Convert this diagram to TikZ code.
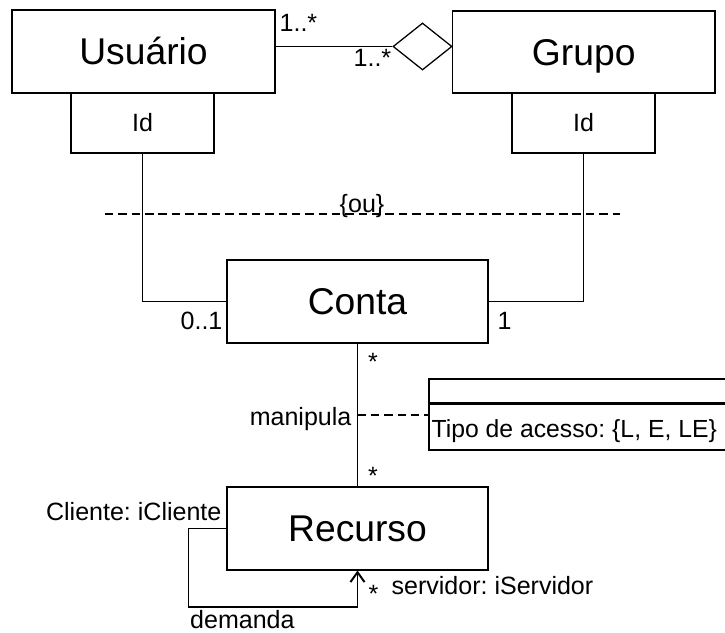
\documentclass[tikz,border=0pt]{standalone}
\usepackage{fontspec}
\setmainfont{Liberation Sans}
\usetikzlibrary{shapes.geometric, arrows.meta}

\newcommand{\grande}{\fontsize{26.5}{30}\selectfont}
\newcommand{\pequeno}{\fontsize{17.8}{21}\selectfont}
\frenchspacing

\begin{document}
\begin{tikzpicture}[line width=0.9pt,
        classe/.style={draw,font=\grande,text height=19pt,text depth=0pt,minimum width=6.55cm,minimum height=2.07cm},
        chave/.style={draw,font=\pequeno,text height=12.7pt,text depth=0pt,minimum width=3.575cm,minimum height=1.5cm},
        rotulo/.style={font=\pequeno,inner sep=0pt},
        tracejado/.style={dashed,dash pattern=on 6pt off 3.5pt,line width=1.1pt}]

        \useasboundingbox (0,0) rectangle (18.125,15.825);

        % classes
        \node [classe,minimum width=6.575cm] at (3.5875,14.5375) (usuario) {Usuário};
        \node [chave] at (3.5625,12.75) (idUsuario) {Id};
        \node [classe,minimum width=6.5625cm,minimum height=2.05cm] at (14.594,14.525) (grupo) {Grupo};
        \node [chave] at (14.5875,12.75) (idGrupo) {Id};
        \node [draw,diamond,inner sep=0pt,minimum width=1.475cm,minimum height=1.175cm] at (10.5625,14.6625) (agreg) {};
        \node [classe,minimum width=6.525cm] at (8.9375,8.2875) (conta) {Conta};
        \node [classe,minimum width=6.525cm] at (8.9375,2.6125) (recurso) {Recurso};

        % classe associativa
        \node [draw,minimum width=8.275cm,minimum height=0.6cm] at (14.8625,6.05) (attrTopo) {};
        \node [draw,minimum width=8.275cm,minimum height=1.175cm] at (14.8625,5.1625) (attrBase) {};
        \draw [line width=1.3pt] (attrTopo.south west) -- (attrTopo.south east);
        \node [rotulo,font=\fontsize{17.6}{21}\selectfont,anchor=base west] at (10.775,4.875) (tipoAcesso) {Tipo de acesso: \{L, E, LE\}};

        % associacoes
        \draw (usuario.east |- agreg.west) -- (agreg.west);
        \draw (idUsuario.south) |- (conta.west);
        \draw (idGrupo.south) |- (conta.east);
        \draw (conta.south) -- (recurso.north);

        \coordinate (ouEsq) at (2.625,10.475);
        \coordinate (ouDir) at (15.5,10.475);
        \draw [tracejado] (ouEsq) -- (ouDir);

        \coordinate (assocMeio) at (8.9375,5.45);
        \draw [tracejado] (assocMeio) -- (assocMeio -| attrBase.west);

        \coordinate (laco) at (4.7125,0.65);
        \draw [line width=1.4pt,-{Straight Barb[length=7pt,width=10pt]}] (recurso.west) -| (laco) -| (recurso.south);

        % rotulos
        \node [rotulo,anchor=base west] at (6.975,15.025) {1..*};
        \node [rotulo,anchor=base west] at (8.825,14.15) {1..*};
        \node [rotulo,anchor=base] at (9.05,10.5) {\{ou\}};
        \node [rotulo,anchor=base east] at (5.575,7.575) {0..1};
        \node [rotulo,anchor=base west] at (12.425,7.575) {1};
        \node [rotulo,anchor=base] at (9.325,6.55) {*};
        \node [rotulo,anchor=base] at (9.325,3.7) {*};
        \node [rotulo,anchor=base east] at (8.8,5.175) {manipula};
        \node [rotulo,anchor=base east] at (5.55,2.8) {Cliente: iCliente};
        \node [rotulo,anchor=base] at (9.3375,0.75) {*};
        \node [rotulo,anchor=base west] at (9.775,0.95) {servidor: iServidor};
        \node [rotulo,anchor=base west] at (4.74,0.1) {demanda};

      \end{tikzpicture}
\end{document}
